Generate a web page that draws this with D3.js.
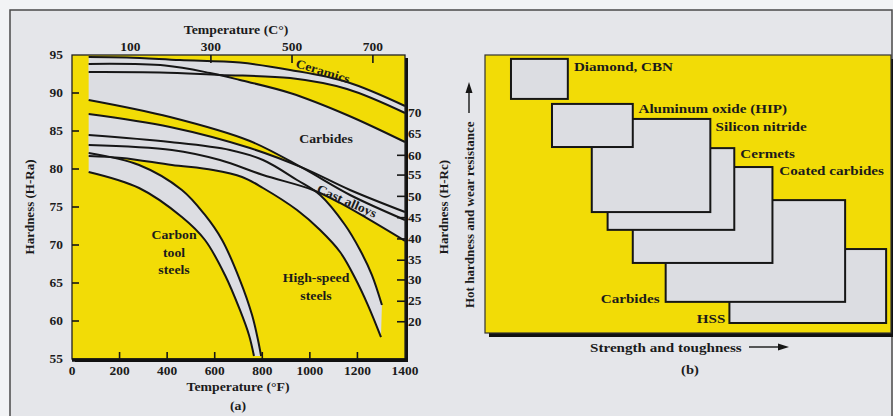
<!DOCTYPE html>
<html><head><meta charset="utf-8">
<script src="https://cdn.jsdelivr.net/npm/d3@7"></script>
<style>
html,body{margin:0;padding:0;background:#f2f3f5;}
svg{display:block;}
text{font-family:"Liberation Serif","Times New Roman",serif;font-weight:bold;fill:#1b1b1b;}
</style>
</head><body>
<svg id="c" width="893" height="416"></svg>
<script>
// ---------- Panel (a): hot hardness vs temperature (°F, H-Ra) ----------
const ceramicsUpper = [[70,94.74],[231,94.68],[454,94.34],[706,94.0],[917,93.03],[1156,91.45],[1400,88.29]];
const ceramicsLower = [[70,92.76],[370,92.7],[622,92.37],[917,91.97],[1156,90.53],[1400,87.37]];
const carbidesUpper = [[70,93.82],[391,93.62],[580,92.63],[706,91.71],[917,90.0],[1156,87.11],[1400,83.55]];
const carbidesLower = [[70,89.08],[412,86.84],[748,83.68],[971,80.1],[1169,76.58],[1400,73.29]];
const castUpper     = [[70,87.24],[412,85.53],[748,82.76],[971,80.15],[1169,77.24],[1400,74.34]];
const castLower     = [[70,83.16],[420,82.5],[622,81.18],[803,79.21],[1013,77.24],[1127,75.53],[1400,70.53]];
const hssUpper      = [[70,84.47],[412,83.55],[664,82.5],[803,81.18],[946,78.55],[1043,76.58],[1148,72.63],[1211,69.34],[1261,66.05],[1303,62.1]];
const hssLower      = [[70,81.71],[210,81.45],[420,80.53],[593,79.87],[715,78.95],[803,77.5],[946,74.6],[1043,71.97],[1127,69.08],[1190,65.66],[1244,62.1],[1299,57.89]];
const carbonUpper   = [[70,82.11],[282,80.53],[462,77.24],[559,73.95],[631,70.66],[706,65.39],[757,60.79],[782,57.5],[795,55.4]];
const carbonLower   = [[70,79.61],[282,77.5],[462,73.68],[559,70.66],[643,66.05],[706,61.45],[744,58.16],[765,55.4]];

const bandNames = ["Ceramics","Carbides","Cast alloys","High-speed steels","Carbon tool steels"];
const bandUpper = [ceramicsUpper, carbidesUpper, castUpper, hssUpper, carbonUpper];
const bandLower = [ceramicsLower, carbidesLower, castLower, hssLower, carbonLower];

const fTicks = [0,200,400,600,800,1000,1200,1400];
const hraTicks = [55,60,65,70,75,80,85,90,95];
const cTicks = [100,300,500,700];
const cTickF = [245,584,925,1265];          // °F position of each °C tick as drawn
const hrcTicks = [70,65,60,55,50,45,40,35,30,25,20];
const hrcAsHra = [87.4,84.6,81.8,79.2,76.4,73.6,70.8,68.0,65.4,62.6,59.9];

// band label positions [°F, H-Ra, rotation]
const bandLabelText = [["Ceramics"],["Carbides"],["Cast alloys"],["High-speed","steels"],["Carbon","tool","steels"]];
const bandLabelF   = [1055,1068,1156,1026,429];
const bandLabelH   = [92.9,83.95,75.8,65.66,71.3];
const bandLabelRot = [17,0,24,0,0];

// ---------- Panel (b): tool materials ----------
const toolNames = ["Diamond, CBN","Aluminum oxide (HIP)","Silicon nitride","Cermets","Coated carbides","Carbides","HSS"];
const toughLo = [6.4,16.5,26.3,30.2,36.4,44.5,60.2];
const toughHi = [20.4,36.4,55.5,61.4,70.8,88.7,98.8];
const hardLo  = [84.2,66.9,43.5,37.1,25.2,11.2,3.6];
const hardHi  = [98.6,82.4,77.0,66.5,59.7,47.8,30.2];
const toolLabelX = [21.9,37.8,56.8,62.9,72.5,43.0,59.2];
const toolLabelY = [96.0,80.9,74.5,64.7,58.6,12.6,5.4];
const toolLabelAnchor = ["start","start","start","start","start","end","end"];

// ---------- drawing ----------
const YEL = "#f2dc06", GRAY = "#dcdde2", INK = "#161616", SX = 1.12;
const svg = d3.select("#c");

svg.append("rect").attr("x",10).attr("y",10).attr("width",882).attr("height",430)
  .attr("fill","#e5e6ea").attr("stroke","#4a4a4a").attr("stroke-width",1.5);

function T(g,x,y,s,o={}){
  const size=o.size||12.5, anchor=o.anchor||"middle", rot=o.rot||0, sx=(o.sx===undefined?SX:o.sx);
  return g.append("text").attr("transform",`translate(${x},${y}) rotate(${rot}) scale(${sx},1)`)
    .attr("text-anchor",anchor).attr("dy","0.35em").style("font-size",size+"px").text(s);
}

// Panel (a)
const xF = d3.scaleLinear().domain([0,1400]).range([72,405]);
const yH = d3.scaleLinear().domain([55,95]).range([359,55]);
const ga = svg.append("g");
const [x0,x1] = xF.range(), [yb,yt] = yH.range();

ga.append("rect").attr("x",x0+3).attr("y",yt+3).attr("width",x1-x0).attr("height",yb-yt).attr("fill","#111");
ga.append("rect").attr("x",x0).attr("y",yt).attr("width",x1-x0).attr("height",yb-yt).attr("fill",YEL);

const line = d3.line().x(d=>xF(d[0])).y(d=>yH(d[1])).curve(d3.curveCatmullRom.alpha(0.5));
bandUpper.forEach((up,i)=>{
  const lo = bandLower[i].slice().reverse();
  ga.append("path").attr("d", line(up) + line(lo).replace(/^M/,"L") + "Z").attr("fill",GRAY).attr("stroke","none");
});
bandUpper.concat(bandLower).forEach(c=>{
  ga.append("path").attr("d",line(c)).attr("fill","none").attr("stroke",INK).attr("stroke-width",2);
});

ga.append("rect").attr("x",x0).attr("y",yt).attr("width",x1-x0).attr("height",yb-yt)
  .attr("fill","none").attr("stroke","#222").attr("stroke-width",1.3);
ga.append("line").attr("x1",x0).attr("x2",x1+3).attr("y1",yb+1).attr("y2",yb+1).attr("stroke","#111").attr("stroke-width",3.5);

// ticks
fTicks.forEach(v=>{
  if(v>0 && v<1400) ga.append("line").attr("x1",xF(v)).attr("x2",xF(v)).attr("y1",yb).attr("y2",yb-7).attr("stroke",INK).attr("stroke-width",1.6);
  T(ga,xF(v),yb+12,String(v),{size:12});
});
hraTicks.forEach(v=>{
  if(v>55 && v<95) ga.append("line").attr("x1",x0).attr("x2",x0+7).attr("y1",yH(v)).attr("y2",yH(v)).attr("stroke",INK).attr("stroke-width",1.6);
  T(ga,x0-9,yH(v),String(v),{size:12,anchor:"end"});
});
cTicks.forEach((v,i)=>{
  if(v>100) ga.append("line").attr("x1",xF(cTickF[i])).attr("x2",xF(cTickF[i])).attr("y1",yt).attr("y2",yt+8).attr("stroke",INK).attr("stroke-width",1.6);
  T(ga,xF(cTickF[i]),yt-8,String(v),{size:12});
});
hrcTicks.forEach((v,i)=>{
  if(v<=60) ga.append("line").attr("x1",x1-8).attr("x2",x1).attr("y1",yH(hrcAsHra[i])).attr("y2",yH(hrcAsHra[i])).attr("stroke",INK).attr("stroke-width",1.6);
  T(ga,x1+3,yH(hrcAsHra[i]),String(v),{size:12,anchor:"start"});
});

// axis titles
T(ga,236,30,"Temperature (C°)",{size:12.3});
T(ga,238,387,"Temperature (°F)",{size:12.3});
T(ga,238,406,"(a)",{size:12.3});
T(ga,29,207,"Hardness (H-Ra)",{size:13,rot:-90,sx:1});
T(ga,443,207,"Hardness (H-Rc)",{size:13,rot:-90,sx:1});

// band labels
bandLabelText.forEach((lines,i)=>{
  lines.forEach((s,k)=>{
    T(ga,xF(bandLabelF[i]),yH(bandLabelH[i])+k*17.5,s,{size:12.3,rot:bandLabelRot[i]});
  });
});

// Panel (b)
const xR = d3.scaleLinear().domain([0,100]).range([485,891]);
const yR = d3.scaleLinear().domain([0,100]).range([333,55]);
const gb = svg.append("g");
const [r0,r1] = xR.range(), [rb,rt] = yR.range();
gb.append("rect").attr("x",r0+4).attr("y",rt+4).attr("width",r1-r0).attr("height",rb-rt).attr("fill","#111");
gb.append("rect").attr("x",r0).attr("y",rt).attr("width",r1-r0).attr("height",rb-rt)
  .attr("fill",YEL).attr("stroke","#333").attr("stroke-width",1.2);

d3.range(toolNames.length).reverse().forEach(i=>{
  gb.append("rect").attr("x",xR(toughLo[i])).attr("y",yR(hardHi[i]))
    .attr("width",xR(toughHi[i])-xR(toughLo[i])).attr("height",yR(hardLo[i])-yR(hardHi[i]))
    .attr("fill",GRAY).attr("stroke",INK).attr("stroke-width",2);
});
toolNames.forEach((s,i)=>{
  T(gb,xR(toolLabelX[i]),yR(toolLabelY[i]),s,{size:13.5,anchor:toolLabelAnchor[i]});
});

// axis titles with arrows
T(gb,590,347,"Strength and toughness",{size:13.5,anchor:"start"});
gb.append("line").attr("x1",749).attr("x2",781).attr("y1",347).attr("y2",347).attr("stroke",INK).attr("stroke-width",1.4);
gb.append("path").attr("d","M789,347 L778,343.5 L778,350.5 Z").attr("fill",INK);
T(gb,469,308,"Hot hardness and wear resistance",{size:13,rot:-90,sx:1,anchor:"start"});
gb.append("line").attr("x1",469).attr("x2",469).attr("y1",113).attr("y2",90).attr("stroke",INK).attr("stroke-width",1.4);
gb.append("path").attr("d","M469,82 L465.5,93 L472.5,93 Z").attr("fill",INK);
T(gb,690,369,"(b)",{size:13});
</script>
</body></html>
